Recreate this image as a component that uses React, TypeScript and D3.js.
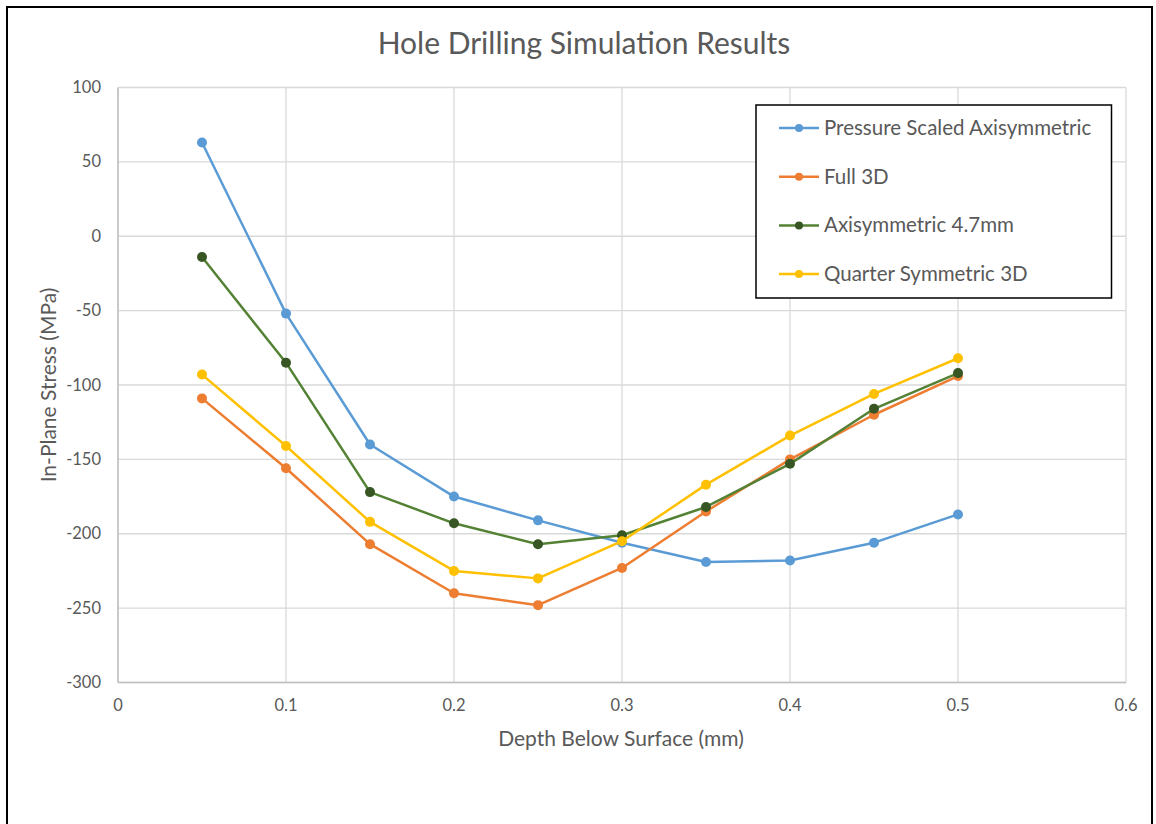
import React from "react";
import * as d3 from "d3";

const depths = [0.05, 0.1, 0.15, 0.2, 0.25, 0.3, 0.35, 0.4, 0.45, 0.5];
const pressureScaled = [63, -52, -140, -175, -191, -206, -219, -218, -206, -187];
const full3D = [-109, -156, -207, -240, -248, -223, -185, -150, -120, -94];
const axisym47 = [-14, -85, -172, -193, -207, -201, -182, -153, -116, -92];
const quarter3D = [-93, -141, -192, -225, -230, -205, -167, -134, -106, -82];

const seriesNames = ["Pressure Scaled Axisymmetric", "Full 3D", "Axisymmetric 4.7mm", "Quarter Symmetric 3D"];
const seriesValues = [pressureScaled, full3D, axisym47, quarter3D];
const lineColors = ["#5B9BD5", "#ED7D31", "#548235", "#FFC000"];
const markerColors = ["#5B9BD5", "#ED7D31", "#375623", "#FFC000"];
const xTicks = [0, 0.1, 0.2, 0.3, 0.4, 0.5, 0.6];
const yTicks = [100, 50, 0, -50, -100, -150, -200, -250, -300];

const FONT = "Lato, 'Open Sans', sans-serif";
const TXT = "#595959";

export default function App() {
  const left = 118, right = 1126, top = 87.5, bottom = 682.5;
  const x = d3.scaleLinear().domain([0, 0.6]).range([left, right]);
  const y = d3.scaleLinear().domain([-300, 100]).range([bottom, top]);
  const line = d3.line<number>().x((_, i) => x(depths[i])).y((v) => y(v));

  const order = [0, 1, 2, 3];

  return (
    <svg width={1156} height={824} style={{ position: "absolute", left: 0, top: 0, background: "#fff" }}>
      <rect x={0} y={0} width={1156} height={824} fill="#fff" />
      <rect x={7} y={7} width={1145} height={840} fill="none" stroke="#000" strokeWidth={2} />
      <text x={584} y={54} textAnchor="middle" fontFamily={FONT} fontSize={30} fill={TXT}>
        Hole Drilling Simulation Results
      </text>
      {yTicks.map((t) => (
        <line key={"gy" + t} x1={left} x2={right} y1={y(t)} y2={y(t)} stroke="#d9d9d9" strokeWidth={1.3} />
      ))}
      {xTicks.map((t) => (
        <line key={"gx" + t} x1={x(t)} x2={x(t)} y1={top} y2={bottom} stroke="#d9d9d9" strokeWidth={1.3} />
      ))}
      <line x1={left} x2={left} y1={top} y2={bottom} stroke="#bfbfbf" strokeWidth={1.5} />
      <line x1={left} x2={right} y1={bottom} y2={bottom} stroke="#bfbfbf" strokeWidth={1.5} />
      {yTicks.map((t) => (
        <text key={"ty" + t} x={101} y={y(t) + 5.5} textAnchor="end" fontFamily={FONT} fontSize={16.5} fill={TXT}>
          {t}
        </text>
      ))}
      {xTicks.map((t) => (
        <text key={"tx" + t} x={x(t)} y={711} textAnchor="middle" fontFamily={FONT} fontSize={16.5} fill={TXT}>
          {t}
        </text>
      ))}
      <text x={621} y={746} textAnchor="middle" fontFamily={FONT} fontSize={21} fill={TXT}>
        Depth Below Surface (mm)
      </text>
      <text
        transform={`translate(56,${(top + bottom) / 2}) rotate(-90)`}
        textAnchor="middle"
        fontFamily={FONT}
        fontSize={21}
        fill={TXT}
      >
        In-Plane Stress (MPa)
      </text>
      {order.map((si) => (
        <g key={"s" + si}>
          <path d={line(seriesValues[si]) || ""} fill="none" stroke={lineColors[si]} strokeWidth={2.5} strokeLinejoin="round" />
          {seriesValues[si].map((v, i) => (
            <circle key={i} cx={x(depths[i])} cy={y(v)} r={5} fill={markerColors[si]} />
          ))}
        </g>
      ))}
      <rect x={756} y={105} width={355.5} height={193} fill="#fff" stroke="#000" strokeWidth={1.5} />
      {seriesNames.map((n, i) => {
        const ly = 128 + i * 48.7;
        return (
          <g key={"l" + i}>
            <line x1={779} x2={819} y1={ly} y2={ly} stroke={lineColors[i]} strokeWidth={2.5} />
            <circle cx={799} cy={ly} r={4} fill={markerColors[i]} />
            <text x={824} y={ly + 7} fontFamily={FONT} fontSize={20.5} fill={TXT}>
              {n}
            </text>
          </g>
        );
      })}
    </svg>
  );
}
